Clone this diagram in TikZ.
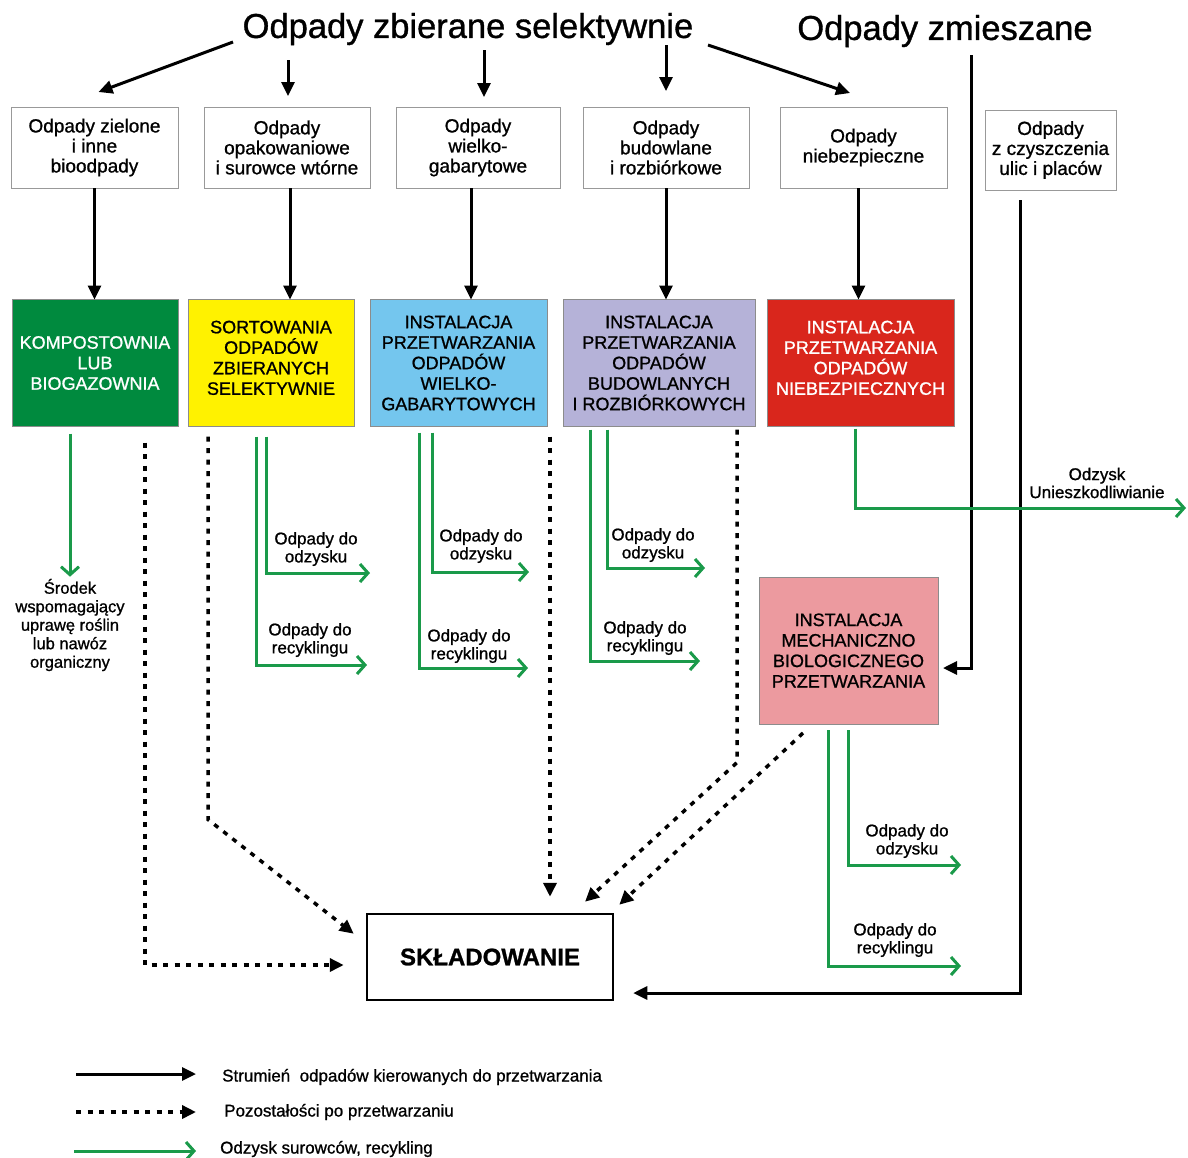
\documentclass[tikz,border=0pt]{standalone}
\usepackage{fontspec}
\setmainfont{Liberation Sans}[FakeBold=1]
\usepackage{tikz}
\usetikzlibrary{arrows.meta}
\usetikzlibrary{calc}
\usetikzlibrary{positioning}

\definecolor{kompgreen}{RGB}{0,138,62}
\definecolor{sortyellow}{RGB}{255,242,0}
\definecolor{gabblue}{RGB}{116,198,238}
\definecolor{budlilac}{RGB}{181,178,216}
\definecolor{niebred}{RGB}{217,38,28}
\definecolor{mbppink}{RGB}{236,154,159}
\definecolor{recgreen}{RGB}{26,154,74}

\begin{document}
\begin{tikzpicture}[x=1pt,y=-1pt,
  wastebox/.style={draw=black!40,line width=1pt,align=center,inner sep=0pt,outer sep=0pt,
    minimum width=167pt,minimum height=81pt,font=\fontsize{19}{20}\selectfont},
  plantbox/.style={draw=black!45,line width=1pt,align=center,inner sep=0pt,outer sep=0pt,
    minimum height=127pt,font=\fontsize{18}{20.5}\selectfont},
  flowline/.style={line width=3pt,-{Triangle[length=14pt,width=13pt]}},
  residue/.style={line width=3.5pt,dash pattern=on 5pt off 6.5pt,-{Triangle[length=14pt,width=13pt]}},
  recovery/.style={draw=recgreen,line width=3pt,-{Straight Barb[length=8pt,width=18pt]}},
  lab/.style={align=center,inner sep=0pt,font=\fontsize{17}{18}\selectfont},
  legtext/.style={anchor=west,inner sep=0pt,font=\fontsize{17}{18}\selectfont}]

  \useasboundingbox (0,0) rectangle (1188,1157);

  \node [font=\fontsize{34.5}{36}\selectfont] (t1) at (468,29) {Odpady zbierane selektywnie};
  \node [font=\fontsize{34.5}{36}\selectfont] (t2) at (945,31) {Odpady zmieszane};

  \node [wastebox] (w1) at (94.5,147.5) {Odpady zielone\\i inne\\bioodpady};
  \node [wastebox,minimum width=166pt,right=26pt of w1] (w2) {Odpady\\opakowaniowe\\i surowce wtórne};
  \node [wastebox,minimum width=164pt,right=26pt of w2] (w3) {Odpady\\wielko-\\gabarytowe};
  \node [wastebox,minimum width=166pt,right=23pt of w3] (w4) {Odpady\\budowlane\\i rozbiórkowe};
  \node [wastebox,right=31pt of w4] (w5) {Odpady\\niebezpieczne};
  \node [wastebox,minimum width=131pt,minimum height=80pt] (w6) at (1050.5,150) {Odpady\\z czyszczenia\\ulic i placów};

  \node [plantbox,fill=kompgreen,text=white,minimum width=166pt] (p1) at (95,363) {KOMPOSTOWNIA\\LUB\\BIOGAZOWNIA};
  \node [plantbox,fill=sortyellow,minimum width=166pt,right=10pt of p1] (p2) {SORTOWANIA\\ODPADÓW\\ZBIERANYCH\\SELEKTYWNIE\\[-10pt]};
  \node [plantbox,fill=gabblue,minimum width=177pt,right=16pt of p2] (p3) {INSTALACJA\\PRZETWARZANIA\\ODPADÓW\\WIELKO-\\GABARYTOWYCH};
  \node [plantbox,fill=budlilac,minimum width=192pt,right=16pt of p3] (p4) {INSTALACJA\\PRZETWARZANIA\\ODPADÓW\\BUDOWLANYCH\\I ROZBIÓRKOWYCH};
  \node [plantbox,fill=niebred,text=white,minimum width=187pt,right=12pt of p4] (p5) {INSTALACJA\\PRZETWARZANIA\\ODPADÓW\\NIEBEZPIECZNYCH\\[-10pt]};

  \node [plantbox,fill=mbppink,minimum width=179pt,minimum height=147pt] (mbp) at (848.5,650.5) {INSTALACJA\\MECHANICZNO\\BIOLOGICZNEGO\\PRZETWARZANIA};
  \node [draw,line width=2.5pt,minimum width=246pt,minimum height=86pt,font=\fontsize{24}{26}\selectfont\bfseries] (sk) at (490,957) {SKŁADOWANIE};

  \node [lab,font=\fontsize{16.5}{18.5}\selectfont] (fert) at (70,625) {Środek\\wspomagający\\uprawę roślin\\lub nawóz\\organiczny};
  \node [lab] (l2a) at (316,549) {Odpady do\\odzysku};
  \node [lab] (l2b) at (310,640) {Odpady do\\recyklingu};
  \node [lab] (l3a) at (481,546) {Odpady do\\odzysku};
  \node [lab] (l3b) at (469,646) {Odpady do\\recyklingu};
  \node [lab] (l4a) at (653,545) {Odpady do\\odzysku};
  \node [lab] (l4b) at (645,638) {Odpady do\\recyklingu};
  \node [lab] (l5) at (1097,483) {Odzysk\\Unieszkodliwianie};
  \node [lab] (l6a) at (907,841) {Odpady do\\odzysku};
  \node [lab] (l6b) at (895,940) {Odpady do\\recyklingu};

  \coordinate (o2) at (370,573);
  \coordinate (r2) at (367,665);
  \coordinate (o3) at (529,572);
  \coordinate (r3) at (528,668);
  \coordinate (o4) at (705,568);
  \coordinate (r4) at (700,661);
  \coordinate (o5) at (1186,508);
  \coordinate (o6) at (961,865);
  \coordinate (r6) at (961,966);

  \coordinate (s1) at ([shift={(-235,13)}]t1.center);
  \coordinate (s2) at ([shift={(-180,31)}]t1.center);
  \coordinate (s3) at ([shift={(16,21)}]t1.center);
  \coordinate (s4) at ([shift={(198,16)}]t1.center);
  \coordinate (s5) at ([shift={(240,16)}]t1.center);

  \draw [flowline] (s1) -- ([shift={(4,-15)}]w1.north);
  \draw [flowline] (s2) -- ($(s2 |- w2.north)+(0,-11)$);
  \draw [flowline] (s3) -- ($(s3 |- w3.north)+(0,-10)$);
  \draw [flowline] (s4) -- ($(s4 |- w4.north)+(0,-16)$);
  \draw [flowline] (s5) -- ([shift={(-13.5,-14)}]w5.north);

  \draw [flowline] (w1.south) -- (w1.south |- p1.north);
  \draw [flowline] ([xshift=3pt]w2.south) -- ($(w2.south |- p2.north)+(3,0)$);
  \draw [flowline] ([xshift=-7pt]w3.south) -- ($(w3.south |- p3.north)+(-7,0)$);
  \draw [flowline] (w4.south) -- (w4.south |- p4.north);
  \draw [flowline] ([xshift=-5pt]w5.south) -- ($(w5.south |- p5.north)+(-5,0)$);

  \draw [flowline] ([shift={(26,24)}]t2.center) |- ([shift={(5,17.5)}]mbp.east);
  \draw [flowline] ([shift={(-30,10)}]w6.south) |- ([shift={(19,36)}]sk.east);

  \draw [recovery] ($(p1.south -| fert.north)+(0,7)$) -- ([yshift=2pt]fert.north);
  \draw [recovery] ([shift={(-5,10)}]p2.south) |- (o2);
  \draw [recovery] ([shift={(-15,10)}]p2.south) |- (r2);
  \draw [recovery] ([shift={(-26.5,6)}]p3.south) |- (o3);
  \draw [recovery] ([shift={(-39.5,6)}]p3.south) |- (r3);
  \draw [recovery] ([shift={(-52,3)}]p4.south) |- (o4);
  \draw [recovery] ([shift={(-69,3)}]p4.south) |- (r4);
  \draw [recovery] ([shift={(-5.5,2)}]p5.south) |- (o5);
  \draw [recovery] ([shift={(-0.5,6)}]mbp.south) |- (o6);
  \draw [recovery] ([shift={(-20.5,6)}]mbp.south) |- (r6);

  \draw [residue] ([shift={(50,16)}]p1.south) |- ([shift={(-22,8)}]sk.west);
  \draw [residue] ([shift={(-63,10)}]p2.south) -- ++(0,383) -- ([shift={(-12,21)}]sk.north west);
  \draw [residue] ([shift={(91.5,10)}]p3.south) -- ([shift={(60,-16)}]sk.north);
  \draw [residue] ([shift={(78,3)}]p4.south) -- ++(0,333) -- ([shift={(95,-11)}]sk.north);
  \draw [residue] ([shift={(-45.5,9)}]mbp.south) -- ([shift={(5,-8)}]sk.north east);

  \node [legtext] (g1) at (222,1077) {Strumień\ \ odpadów kierowanych do przetwarzania};
  \node [legtext] (g2) at (224,1112) {Pozostałości po przetwarzaniu};
  \node [legtext] (g3) at (220,1149) {Odzysk surowców, recykling};
  \draw [flowline] ([shift={(-146,-3)}]g1.west) -- ([shift={(-26,-3)}]g1.west);
  \draw [residue] ([shift={(-148,0)}]g2.west) -- ([shift={(-28,0)}]g2.west);
  \draw [recovery] ([shift={(-146,2)}]g3.west) -- ([shift={(-24,2)}]g3.west);

\end{tikzpicture}
\end{document}
